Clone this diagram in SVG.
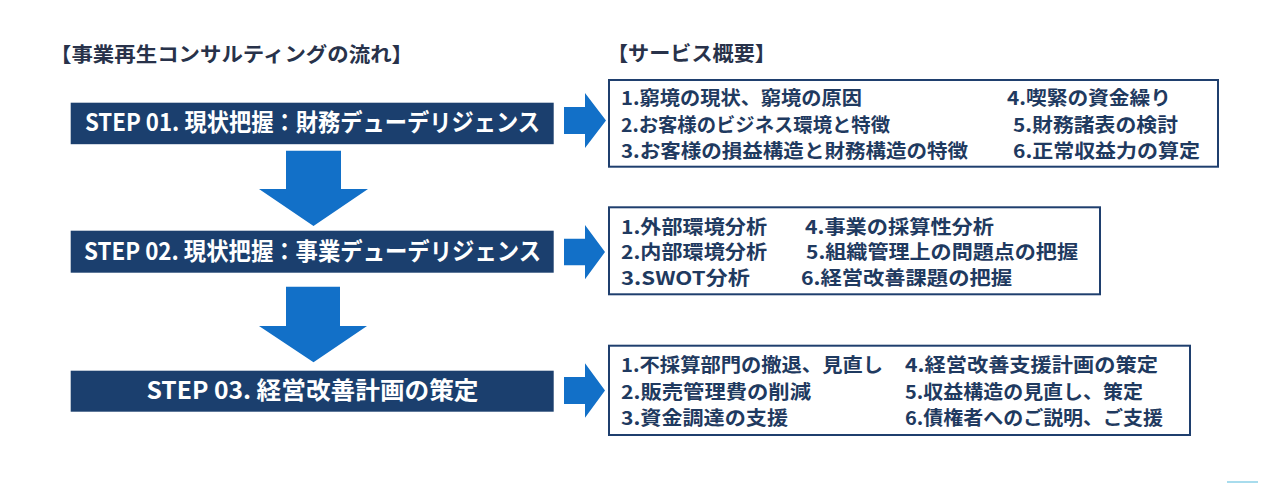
<svg xmlns="http://www.w3.org/2000/svg" width="1280" height="483" viewBox="0 0 1280 483">
<style>
text{font-family:"Noto Sans CJK JP","Noto Sans",sans-serif;font-weight:bold}
.hdr{font-size:20px;fill:#28324a}
.step{fill:#1b3f6e}
.stept{font-size:24px;fill:#ffffff}
.box{fill:#ffffff;stroke:#1f3f6e;stroke-width:2}
.it{font-size:19px;fill:#1f3a60}
.arr{fill:#1270c8}
</style>
<rect width="1280" height="483" fill="#ffffff"/>
<text class="hdr" x="50" y="62" textLength="363" lengthAdjust="spacingAndGlyphs">【事業再生コンサルティングの流れ】</text>
<text class="hdr" x="607" y="61" textLength="169" lengthAdjust="spacingAndGlyphs">【サービス概要】</text>
<g id="connectors">
<polygon class="arr" points="564,107 585,107 585,93 606,120.5 585,148 585,134 564,134"/>
<polygon class="arr" points="564,238.7 585,238.7 585,225 605,252 585,279.3 585,265.3 564,265.3"/>
<polygon class="arr" points="564,377 585,377 585,363.3 605,390.5 585,417.7 585,404 564,404"/>
<polygon class="arr" points="286,150.7 341,150.7 341,189 368,189 313.5,226 259,189 286,189"/>
<polygon class="arr" points="286,286.7 340,286.7 340,326 367,326 313.5,362.3 259,326 286,326"/>
</g>
<g id="step01">
<rect class="step" x="70.7" y="102.7" width="483" height="41.5"/>
<text class="stept" x="85" y="131" textLength="455" lengthAdjust="spacingAndGlyphs">STEP 01. 現状把握：財務デューデリジェンス</text>
</g>
<g id="step02">
<rect class="step" x="70.7" y="230.7" width="483" height="42"/>
<text class="stept" x="84" y="259.5" textLength="457" lengthAdjust="spacingAndGlyphs">STEP 02. 現状把握：事業デューデリジェンス</text>
</g>
<g id="step03">
<rect class="step" x="70.7" y="370.7" width="483" height="41"/>
<text class="stept" x="146.5" y="399" textLength="332" lengthAdjust="spacingAndGlyphs">STEP 03. 経営改善計画の策定</text>
</g>
<g id="detail01">
<rect class="box" x="609" y="80" width="609" height="86.7"/>
<text class="it" x="621" y="105" textLength="241" lengthAdjust="spacingAndGlyphs">1.窮境の現状、窮境の原因</text>
<text class="it" x="621" y="131.5" textLength="269" lengthAdjust="spacingAndGlyphs">2.お客様のビジネス環境と特徴</text>
<text class="it" x="621" y="157.5" textLength="347" lengthAdjust="spacingAndGlyphs">3.お客様の損益構造と財務構造の特徴</text>
<text class="it" x="1007" y="105" textLength="164" lengthAdjust="spacingAndGlyphs">4.喫緊の資金繰り</text>
<text class="it" x="1013" y="131.5" textLength="165" lengthAdjust="spacingAndGlyphs">5.財務諸表の検討</text>
<text class="it" x="1013" y="157.5" textLength="187" lengthAdjust="spacingAndGlyphs">6.正常収益力の算定</text>
</g>
<g id="detail02">
<rect class="box" x="609" y="207.3" width="491" height="87"/>
<text class="it" x="621" y="233.5" textLength="146" lengthAdjust="spacingAndGlyphs">1.外部環境分析</text>
<text class="it" x="621" y="259" textLength="146" lengthAdjust="spacingAndGlyphs">2.内部環境分析</text>
<text class="it" x="621" y="285" textLength="129" lengthAdjust="spacingAndGlyphs">3.SWOT分析</text>
<text class="it" x="805" y="233.5" textLength="189" lengthAdjust="spacingAndGlyphs">4.事業の採算性分析</text>
<text class="it" x="806" y="259" textLength="272" lengthAdjust="spacingAndGlyphs">5.組織管理上の問題点の把握</text>
<text class="it" x="801" y="285" textLength="211" lengthAdjust="spacingAndGlyphs">6.経営改善課題の把握</text>
</g>
<g id="detail03">
<rect class="box" x="609" y="345.7" width="581" height="89.3"/>
<text class="it" x="621" y="372" textLength="262" lengthAdjust="spacingAndGlyphs">1.不採算部門の撤退、見直し</text>
<text class="it" x="621" y="398.5" textLength="190" lengthAdjust="spacingAndGlyphs">2.販売管理費の削減</text>
<text class="it" x="621" y="424.5" textLength="167" lengthAdjust="spacingAndGlyphs">3.資金調達の支援</text>
<text class="it" x="905" y="372" textLength="253" lengthAdjust="spacingAndGlyphs">4.経営改善支援計画の策定</text>
<text class="it" x="905" y="398.5" textLength="238" lengthAdjust="spacingAndGlyphs">5.収益構造の見直し、策定</text>
<text class="it" x="905" y="424.5" textLength="258" lengthAdjust="spacingAndGlyphs">6.債権者へのご説明、ご支援</text>
</g>
<rect x="1227" y="481" width="31" height="2" fill="#a8dced"/>
</svg>
